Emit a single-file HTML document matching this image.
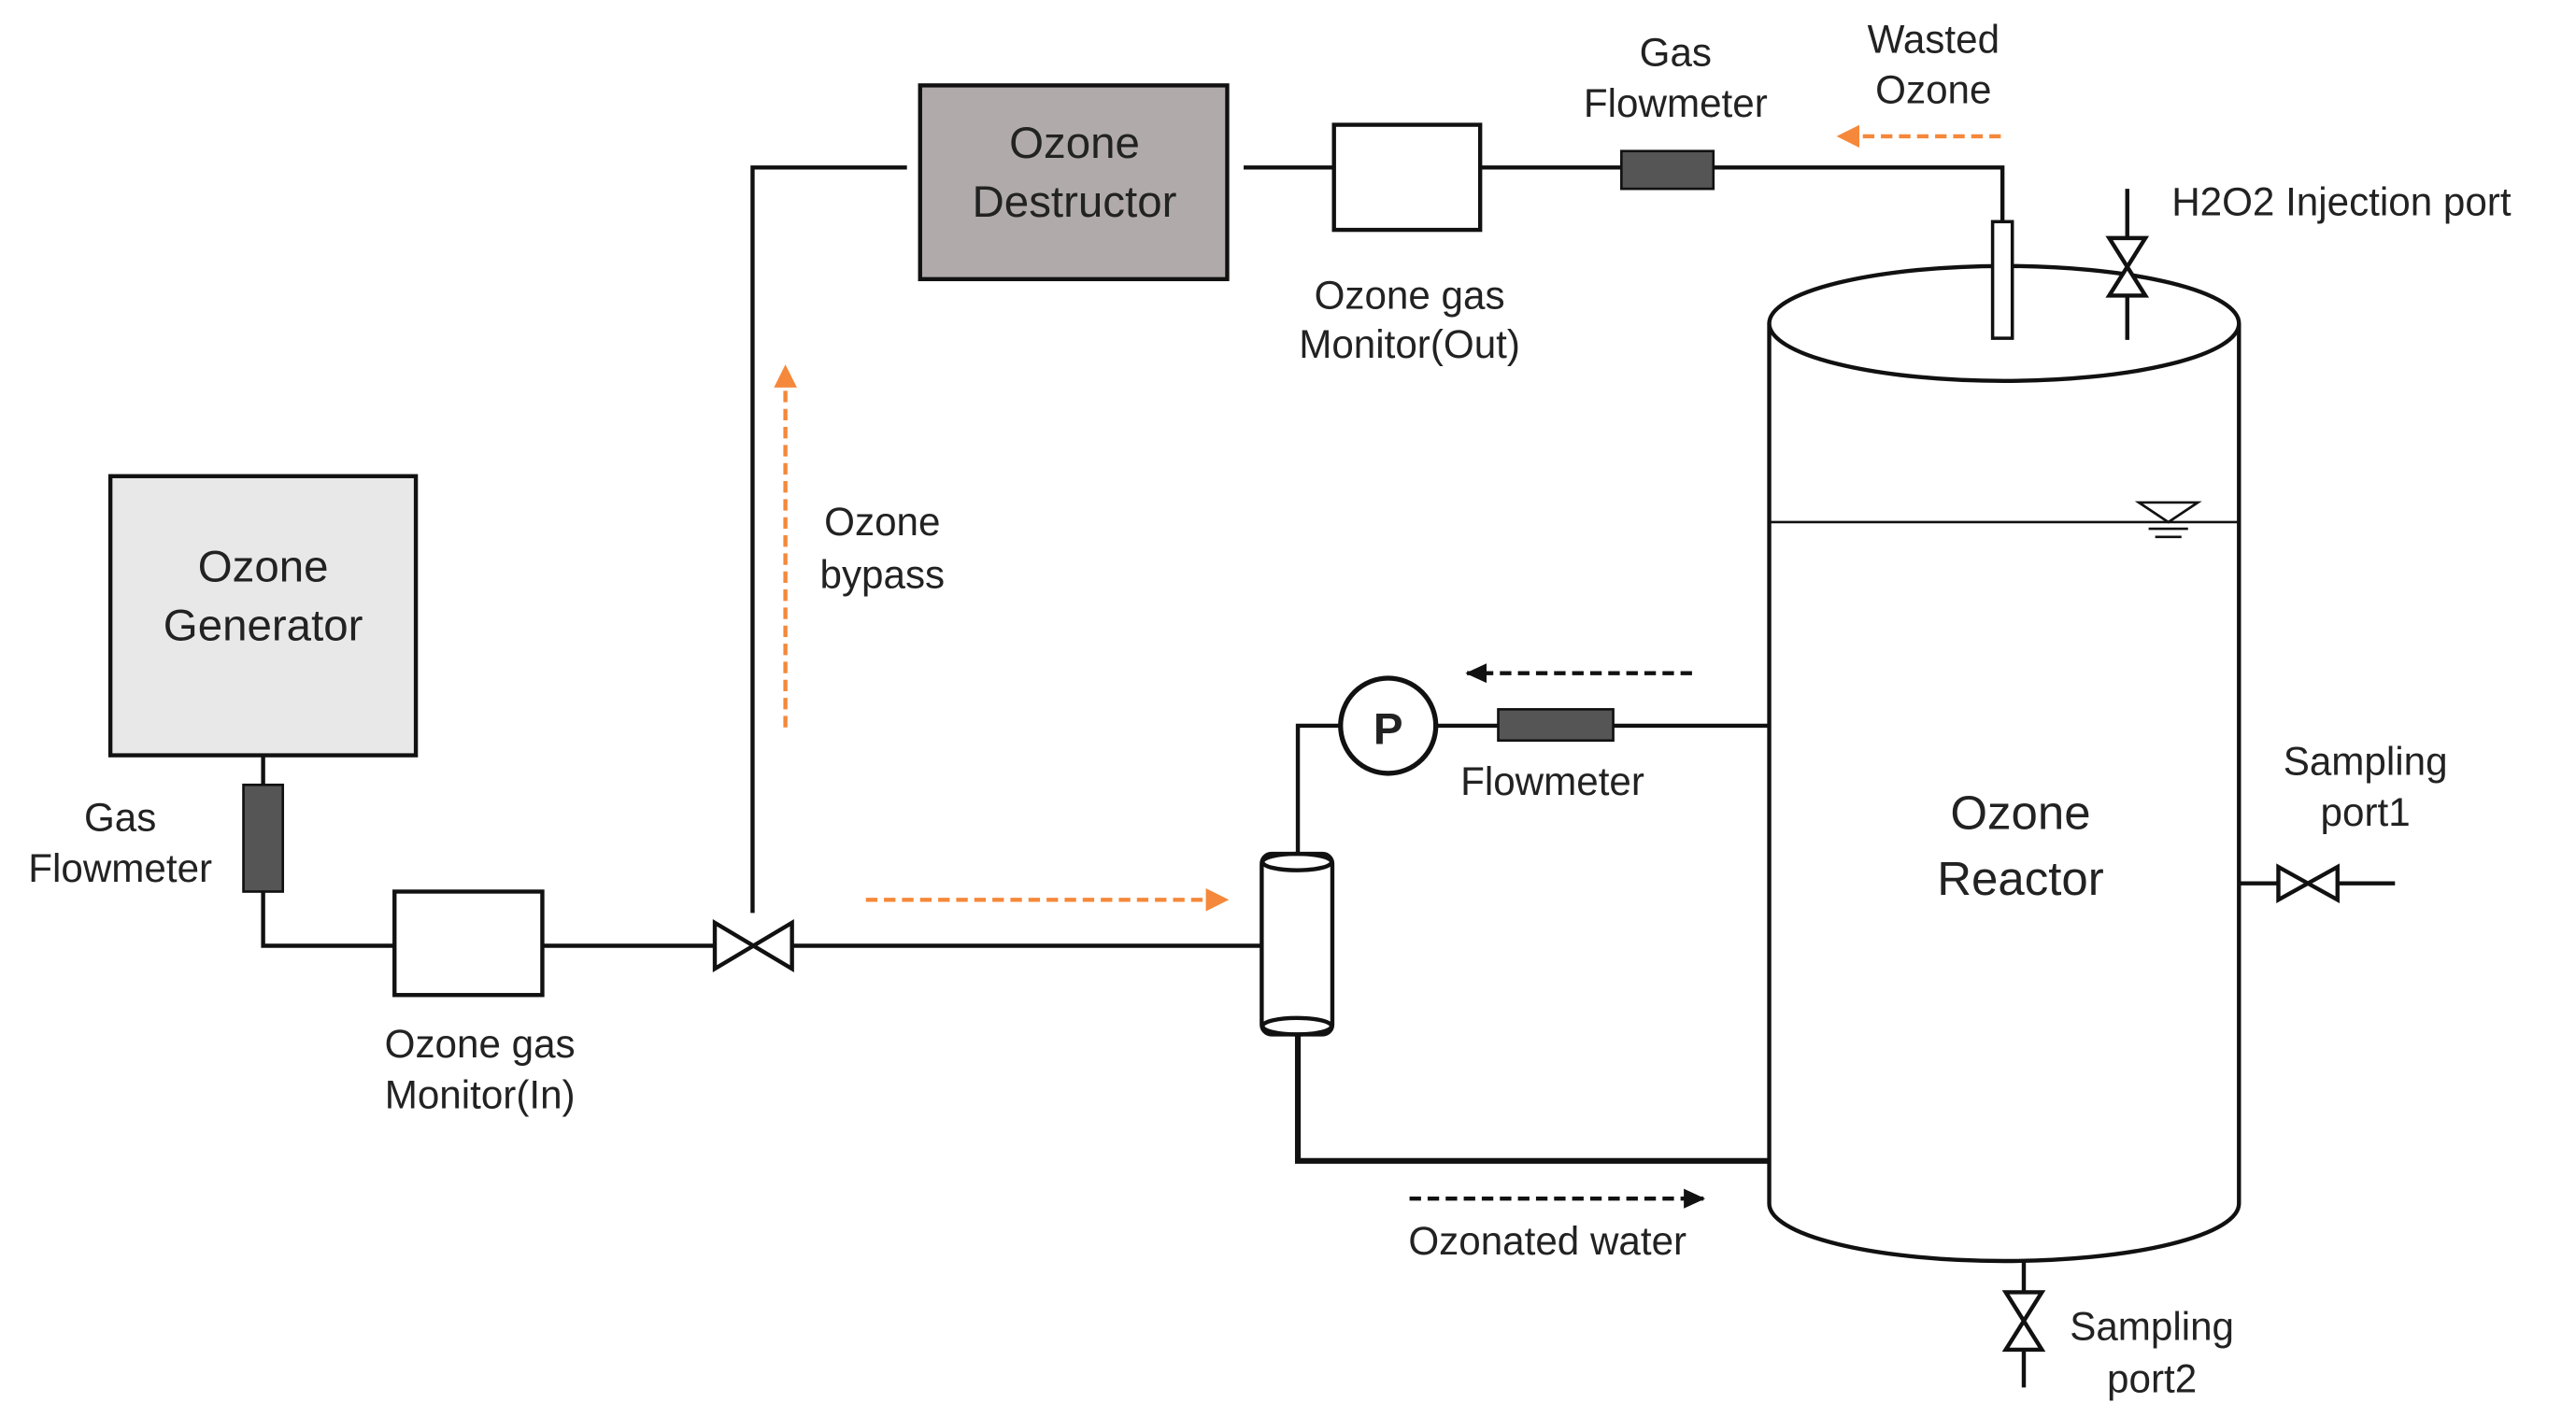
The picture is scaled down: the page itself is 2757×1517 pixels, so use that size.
<!DOCTYPE html>
<html><head><meta charset="utf-8"><style>
html,body{margin:0;padding:0;background:#fff;}
svg{display:block;}
text{font-family:"Liberation Sans","DejaVu Sans",sans-serif;fill:#222;}
</style></head><body>
<svg width="2757" height="1517" viewBox="0 0 1568 863" xmlns="http://www.w3.org/2000/svg">
<defs>
<marker id="ao" markerWidth="14" markerHeight="14" refX="12" refY="7" orient="auto" markerUnits="userSpaceOnUse"><path d="M0,0 L14,7 L0,14 Z" fill="#f5883a"/></marker>
<marker id="ab" markerWidth="14" markerHeight="14" refX="12" refY="7" orient="auto" markerUnits="userSpaceOnUse"><path d="M0,1 L13,7 L0,13 Z" fill="#111"/></marker>
</defs>
<g stroke="#111" stroke-width="2.5" fill="none">
<!-- generator -->
<rect x="67" y="290" width="186" height="170" fill="#e8e8e8"/>
<line x1="160" y1="460" x2="160" y2="478"/>
<rect x="148" y="478" width="24" height="65" fill="#555" stroke-width="1.5"/>
<polyline points="160,543 160,576 240,576"/>
<rect x="240" y="543" width="90" height="63" fill="#fff"/>
<line x1="330" y1="576" x2="435" y2="576"/>
<path d="M435,562 L482,590 L482,562 L435,590 Z" fill="#fff"/>
<line x1="482" y1="576" x2="768" y2="576"/>
<polyline points="458,556 458,102 552,102"/>
<rect x="560" y="52" width="187" height="118" fill="#b0aaaa"/>
<line x1="757" y1="102" x2="812" y2="102"/>
<rect x="812" y="76" width="89" height="64" fill="#fff"/>
<line x1="901" y1="102" x2="987" y2="102"/>
<rect x="987" y="92" width="56" height="23" fill="#555" stroke-width="1.5"/>
<polyline points="1043,102 1219,102 1219,135"/>
<!-- reactor -->
<path d="M1077,197 L1077,733 A143,35 0 0 0 1363,733 L1363,197" fill="#fff"/>
<ellipse cx="1220" cy="197" rx="143" ry="35" fill="#fff"/>
<line x1="1077" y1="318" x2="1363" y2="318" stroke-width="1.5"/>
<path d="M1302,306 L1338,306 L1320,318 Z" stroke-width="1.5"/>
<line x1="1308" y1="322" x2="1332" y2="322" stroke-width="1.5"/>
<line x1="1312" y1="327" x2="1328" y2="327" stroke-width="1.5"/>
<!-- injection tube (over reactor) -->
<rect x="1213" y="135" width="12" height="71" fill="#fff" stroke-width="2"/>
<!-- H2O2 -->
<line x1="1295" y1="115" x2="1295" y2="207"/>
<path d="M1284,145 L1306,180 L1284,180 L1306,145 Z" fill="#fff"/>
<!-- sampling 1 -->
<line x1="1363" y1="538" x2="1458" y2="538"/>
<path d="M1387,528 L1423,548 L1423,528 L1387,548 Z" fill="#fff"/>
<!-- sampling 2 -->
<line x1="1232" y1="768" x2="1232" y2="845"/>
<path d="M1221,787 L1243,822 L1221,822 L1243,787 Z" fill="#fff"/>
<!-- pump loop -->
<line x1="982" y1="442" x2="1077" y2="442"/>
<rect x="912" y="432" width="70" height="19" fill="#555" stroke-width="1.5"/>
<line x1="874" y1="442" x2="912" y2="442"/>
<circle cx="845" cy="442" r="29" fill="#fff" stroke-width="3"/>
<polyline points="816,442 790,442 790,522"/>
<rect x="768" y="520" width="43" height="110" rx="6" fill="#fff"/>
<ellipse cx="789.5" cy="525" rx="21" ry="5"/>
<ellipse cx="789.5" cy="625" rx="21" ry="5"/>
<polyline points="790,630 790,707 1077,707" stroke-width="3.5"/>
</g>
<!-- arrows -->
<g stroke-width="2.5" stroke-dasharray="7,4" fill="none">
<line x1="1218" y1="83" x2="1120" y2="83" stroke="#f5883a" marker-end="url(#ao)"/>
<line x1="478" y1="443" x2="478" y2="224" stroke="#f5883a" marker-end="url(#ao)"/>
<line x1="527" y1="548" x2="746" y2="548" stroke="#f5883a" marker-end="url(#ao)"/>
<line x1="1030" y1="410" x2="893" y2="410" stroke="#111" marker-end="url(#ab)"/>
<line x1="858" y1="730" x2="1037" y2="730" stroke="#111" marker-end="url(#ab)"/>
</g>
<g font-size="24" text-anchor="middle">
<text x="160" y="354" font-size="27">Ozone</text>
<text x="160" y="390" font-size="27">Generator</text>
<text x="654" y="96" font-size="27">Ozone</text>
<text x="654" y="132" font-size="27">Destructor</text>
<text x="1230" y="505" font-size="29">Ozone</text>
<text x="1230" y="545" font-size="29">Reactor</text>
<text x="845" y="453" font-size="27" font-weight="bold">P</text>
<text x="73" y="506">Gas</text>
<text x="73" y="537">Flowmeter</text>
<text x="292" y="644">Ozone gas</text>
<text x="292" y="675">Monitor(In)</text>
<text x="537" y="326">Ozone</text>
<text x="537" y="358">bypass</text>
<text x="858" y="188">Ozone gas</text>
<text x="858" y="218">Monitor(Out)</text>
<text x="1020" y="40">Gas</text>
<text x="1020" y="71">Flowmeter</text>
<text x="1177" y="32">Wasted</text>
<text x="1177" y="63">Ozone</text>
<text x="945" y="484">Flowmeter</text>
<text x="942" y="764">Ozonated water</text>
<text x="1440" y="472">Sampling</text>
<text x="1440" y="503">port1</text>
<text x="1310" y="816">Sampling</text>
<text x="1310" y="848">port2</text>
<text x="1322" y="131" text-anchor="start">H2O2 Injection port</text>
</g>
</svg>
</body></html>
